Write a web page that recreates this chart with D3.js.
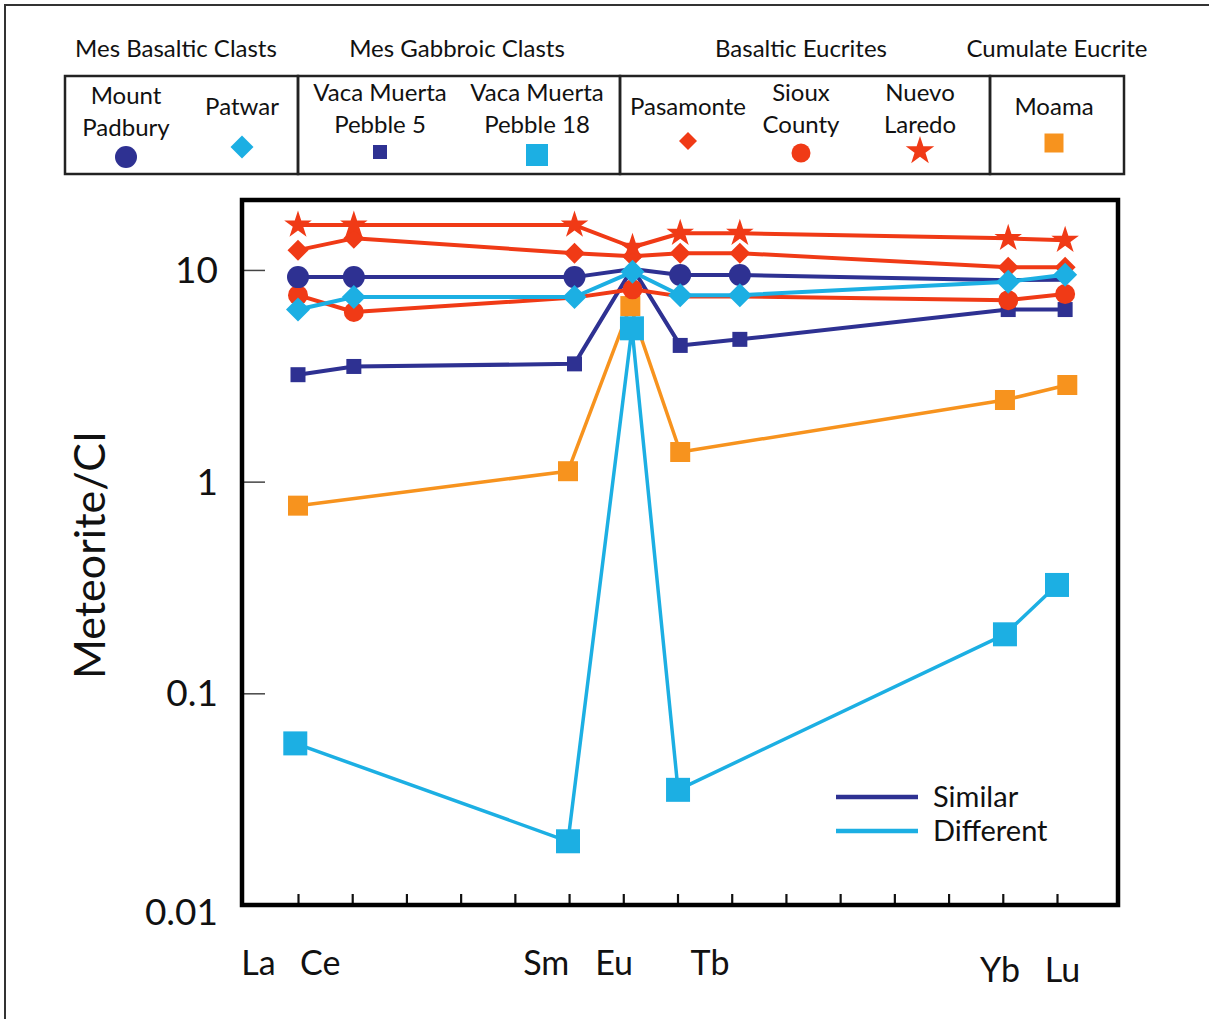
<!DOCTYPE html>
<html lang="en">
<head>
<meta charset="UTF-8">
<title>Meteorite/CI REE patterns</title>
<script src="https://d3js.org/d3.v7.min.js"></script>
<style>
  body { margin: 0; background: #fff; }
  svg text { font-family: Lato, "Open Sans", sans-serif; fill: #111; }
</style>
</head>
<body>
<svg id="chart" width="1209" height="1019"></svg>
<script>
// measured points, as positions on the 15-element REE axis (La = 0 ... Lu = 14)
const pointPos = [0, 1.03, 5.1, 6.17, 7.05, 8.15, 13.1, 14.15];
// the two square-marker series sit slightly off the common positions
const pebble18Pos = [-0.05, null, 4.98, 6.16, 7.01, null, 13.04, 14.0];
const moamaPos    = [0, null, 4.98, 6.13, 7.05, null, 13.04, 14.19];

// x-axis labels and where they sit (in element-index units)
const xLabels = ["La", "Ce", "Sm", "Eu", "Tb", "Yb", "Lu"];
const xLabelPos = [-0.73, 0.41, 4.58, 5.83, 7.6, 12.95, 14.1];
const yTicks = [10, 1, 0.1];
const yLabels = [10, 1, 0.1, 0.01];

// Meteorite/CI values, null = not measured
const mountPadbury = [9.25, 9.25, 9.25, 10.1, 9.46, 9.46, 8.95, 9.0];
const patwar       = [6.5, 7.45, 7.45, 9.8, 7.6, 7.6, 8.8, 9.5];
const pebble5      = [3.2, 3.5, 3.6, 10.2, 4.4, 4.7, 6.5, 6.5];
const pebble18     = [0.058, null, 0.020, 5.3, 0.035, null, 0.19, 0.325];
const pasamonte    = [12.4, 14.1, 12.0, 11.6, 12.0, 12.0, 10.3, 10.3];
const siouxCounty  = [7.6, 6.33, 7.4, 8.1, 7.5, 7.5, 7.2, 7.7];
const nuevoLaredo  = [16.3, 16.3, 16.3, 12.8, 14.9, 14.9, 14.1, 13.8];
const moama        = [0.77, null, 1.12, 6.75, 1.38, null, 2.43, 2.86];

// which points carry a symbol (the others are hidden behind other symbols)
const padburyMarked = [0, 1, 2, 4, 5];
const siouxMarked = [0, 1, 3, 6, 7];
const pebble5Marked = [0, 1, 2, 4, 5, 6, 7];

const NAVY = "#2e3192", CYAN = "#1cafe3", RED = "#f03a16", ORANGE = "#f7931e";

const series = [
  { name: "Moama", values: moama, pos: moamaPos, color: ORANGE, shape: "square", size: 20, width: 3.5 },
  { name: "Vaca Muerta Pebble 18", values: pebble18, pos: pebble18Pos, color: CYAN, shape: "square", size: 24, width: 3.5 },
  { name: "Vaca Muerta Pebble 5", values: pebble5, marked: pebble5Marked, color: NAVY, shape: "square", size: 15, width: 4 },
  { name: "Sioux County", values: siouxCounty, marked: siouxMarked, color: RED, shape: "circle", size: 10, width: 4 },
  { name: "Pasamonte", values: pasamonte, color: RED, shape: "diamond", size: 21, width: 4 },
  { name: "Nuevo Laredo", values: nuevoLaredo, color: RED, shape: "star", size: 14.5, width: 4 },
  { name: "Mount Padbury", values: mountPadbury, marked: padburyMarked, color: NAVY, shape: "circle", size: 11, width: 4 },
  { name: "Patwar", values: patwar, color: CYAN, shape: "diamond", size: 24, width: 4 }
];

const svg = d3.select("#chart");

// outer frame
svg.append("rect").attr("x", 5).attr("y", 5).attr("width", 1215).attr("height", 1030)
  .attr("fill", "none").attr("stroke", "#333").attr("stroke-width", 2);

const plotL = 242, plotT = 200, plotR = 1118, plotB = 905;

const x = d3.scaleLinear().domain([0, 14]).range([298, 1057]);
const y = d3.scaleLog().domain([0.01, 21.4]).range([plotB, plotT]);

// symbol path generator; size is radius for circle/star, full width otherwise
function symbolPath(shape, size) {
  if (shape === "circle") return d3.symbol(d3.symbolCircle, Math.PI * size * size)();
  if (shape === "star") return d3.symbol(d3.symbolStar, size * size / 0.8908130915)();
  if (shape === "square") return d3.symbol(d3.symbolSquare, size * size)();
  // diamond = square turned 45 degrees, size = diagonal
  const s = size / Math.SQRT2;
  return d3.symbol(d3.symbolSquare, s * s)();
}
function symbolRotate(shape) { return shape === "diamond" ? " rotate(45)" : ""; }

// axes (ticks point inward)
svg.append("g").attr("transform", `translate(0,${plotB})`)
  .call(d3.axisBottom(x).tickValues(d3.range(15)).tickSize(-11).tickFormat(""))
  .call(g => g.select(".domain").remove())
  .call(g => g.selectAll(".tick line").attr("stroke", "#111").attr("stroke-width", 2.2));

svg.append("g").attr("transform", `translate(${plotL},0)`)
  .call(d3.axisLeft(y).tickValues(yTicks).tickSize(-23).tickFormat(""))
  .call(g => g.select(".domain").remove())
  .call(g => g.selectAll(".tick line").attr("stroke", "#444").attr("stroke-width", 1.5));

svg.append("g").selectAll("text").data(yLabels).join("text")
  .attr("x", 218).attr("y", d => y(d) + (d === 0.01 ? 7 : 0)).attr("dy", "0.35em")
  .attr("text-anchor", "end").attr("font-size", 37)
  .text(d => d);

svg.append("g").selectAll("text").data(xLabels).join("text")
  .attr("x", (d, i) => x(xLabelPos[i]))
  .attr("y", (d, i) => d === "Yb" || d === "Lu" ? 982 : 975)
  .attr("text-anchor", "middle").attr("font-size", 34)
  .text(d => d);

svg.append("text")
  .attr("transform", "translate(105,555) rotate(-90)")
  .attr("text-anchor", "middle").attr("font-size", 43)
  .text("Meteorite/CI");

// data
const line = d3.line().x(d => x(d.x)).y(d => y(d.v));
const plot = svg.append("g");
series.forEach(s => {
  const xs = s.pos || pointPos;
  const pts = s.values.map((v, i) => ({ x: xs[i], v, i })).filter(d => d.v != null);
  const g = plot.append("g");
  g.append("path").datum(pts).attr("d", line)
    .attr("fill", "none").attr("stroke", s.color).attr("stroke-width", s.width)
    .attr("stroke-linejoin", "round");
  const marked = s.marked ? pts.filter(d => s.marked.includes(d.i)) : pts;
  g.selectAll("path.pt").data(marked).join("path").attr("class", "pt")
    .attr("d", symbolPath(s.shape, s.size))
    .attr("transform", d => `translate(${x(d.x)},${y(d.v)})${symbolRotate(s.shape)}`)
    .attr("fill", s.color);
});

// plot frame
svg.append("rect").attr("x", plotL).attr("y", plotT)
  .attr("width", plotR - plotL).attr("height", plotB - plotT)
  .attr("fill", "none").attr("stroke", "#000").attr("stroke-width", 4.5);

// Similar / Different key
const keyItems = [{ label: "Similar", color: NAVY }, { label: "Different", color: CYAN }];
const key = svg.append("g").selectAll("g").data(keyItems).join("g")
  .attr("transform", (d, i) => `translate(836,${797 + i * 34})`);
key.append("line").attr("x1", 0).attr("x2", 82)
  .attr("stroke", d => d.color).attr("stroke-width", 4.5);
key.append("text").attr("x", 97).attr("dy", "0.35em").attr("font-size", 29).text(d => d.label);

// top legend
const groupTitles = ["Mes Basaltic Clasts", "Mes Gabbroic Clasts", "Basaltic Eucrites", "Cumulate Eucrite"];
const groupCenters = [176, 457, 801, 1057];
const boxEdges = [65, 298, 620, 990, 1124];

svg.append("g").selectAll("text").data(groupTitles).join("text")
  .attr("x", (d, i) => groupCenters[i]).attr("y", 57)
  .attr("text-anchor", "middle").attr("font-size", 24).text(d => d);

svg.append("g").selectAll("rect").data(d3.range(4)).join("rect")
  .attr("x", i => boxEdges[i]).attr("y", 76)
  .attr("width", i => boxEdges[i + 1] - boxEdges[i]).attr("height", 98)
  .attr("fill", "none").attr("stroke", "#222").attr("stroke-width", 2.5);

const legendItems = [
  { lines: ["Mount", "Padbury"], cx: 126, ty: 104, sy: 157, ref: "Mount Padbury", size: 11 },
  { lines: ["Patwar"], cx: 242, ty: 115, sy: 147, ref: "Patwar", size: 23 },
  { lines: ["Vaca Muerta", "Pebble 5"], cx: 380, ty: 101, sy: 152, ref: "Vaca Muerta Pebble 5", size: 14 },
  { lines: ["Vaca Muerta", "Pebble 18"], cx: 537, ty: 101, sy: 155, ref: "Vaca Muerta Pebble 18", size: 22 },
  { lines: ["Pasamonte"], cx: 688, ty: 115, sy: 141, ref: "Pasamonte", size: 18 },
  { lines: ["Sioux", "County"], cx: 801, ty: 101, sy: 153, ref: "Sioux County", size: 9.5 },
  { lines: ["Nuevo", "Laredo"], cx: 920, ty: 101, sy: 151, ref: "Nuevo Laredo", size: 15 },
  { lines: ["Moama"], cx: 1054, ty: 115, sy: 143, ref: "Moama", size: 19 }
];

const li = svg.append("g").selectAll("g").data(legendItems).join("g");
li.append("text").attr("text-anchor", "middle").attr("font-size", 24)
  .attr("x", d => d.cx).attr("y", d => d.ty)
  .selectAll("tspan").data(d => d.lines.map(t => ({ t, cx: d.cx }))).join("tspan")
  .attr("x", d => d.cx).attr("dy", (d, i) => i ? 32 : 0).text(d => d.t);
li.append("path")
  .attr("d", d => symbolPath(series.find(s => s.name === d.ref).shape, d.size))
  .attr("transform", d => `translate(${d.cx},${d.sy})${symbolRotate(series.find(s => s.name === d.ref).shape)}`)
  .attr("fill", d => series.find(s => s.name === d.ref).color);
</script>
</body>
</html>
